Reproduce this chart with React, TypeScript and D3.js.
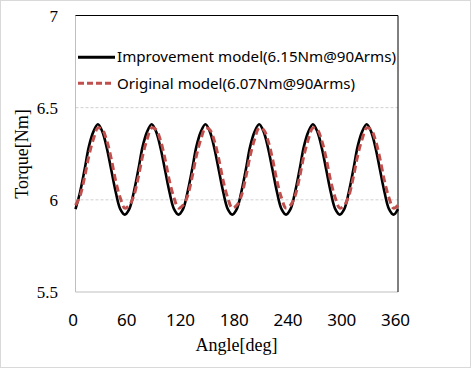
import * as d3 from "d3"

// angle [deg], every 5 degrees
const angles = [
  0, 5, 10, 15, 20, 25, 30, 35, 40, 45, 50, 55,
  60, 65, 70, 75, 80, 85, 90, 95, 100, 105, 110, 115,
  120, 125, 130, 135, 140, 145, 150, 155, 160, 165, 170, 175,
  180, 185, 190, 195, 200, 205, 210, 215, 220, 225, 230, 235,
  240, 245, 250, 255, 260, 265, 270, 275, 280, 285, 290, 295,
  300, 305, 310, 315, 320, 325, 330, 335, 340, 345, 350, 355,
  360,
]

const improvement = [
  5.95, 6.04, 6.16, 6.29, 6.37, 6.41, 6.37, 6.28, 6.16, 6.04, 5.95, 5.92,
  5.95, 6.04, 6.16, 6.29, 6.37, 6.41, 6.37, 6.28, 6.16, 6.04, 5.95, 5.92,
  5.95, 6.04, 6.16, 6.29, 6.37, 6.41, 6.37, 6.28, 6.16, 6.04, 5.95, 5.92,
  5.95, 6.04, 6.16, 6.29, 6.37, 6.41, 6.37, 6.28, 6.16, 6.04, 5.95, 5.92,
  5.95, 6.04, 6.16, 6.29, 6.37, 6.41, 6.37, 6.28, 6.16, 6.04, 5.95, 5.92,
  5.95, 6.04, 6.16, 6.29, 6.37, 6.41, 6.37, 6.28, 6.16, 6.04, 5.95, 5.92,
  5.95,
]

const original = [
  5.97, 6.02, 6.12, 6.24, 6.33, 6.39, 6.38, 6.32, 6.22, 6.1, 6.01, 5.955,
  5.97, 6.02, 6.12, 6.24, 6.33, 6.39, 6.38, 6.32, 6.22, 6.1, 6.01, 5.955,
  5.97, 6.02, 6.12, 6.24, 6.33, 6.39, 6.38, 6.32, 6.22, 6.1, 6.01, 5.955,
  5.97, 6.02, 6.12, 6.24, 6.33, 6.39, 6.38, 6.32, 6.22, 6.1, 6.01, 5.955,
  5.97, 6.02, 6.12, 6.24, 6.33, 6.39, 6.38, 6.32, 6.22, 6.1, 6.01, 5.955,
  5.97, 6.02, 6.12, 6.24, 6.33, 6.39, 6.38, 6.32, 6.22, 6.1, 6.01, 5.955,
  5.97,
]

const xTicks = [0, 60, 120, 180, 240, 300, 360]
const yTicks = [5.5, 6, 6.5, 7]
const yTickLabels = ["5.5", "6", "6.5", "7"]
const gridValues = [6, 6.5]
const legendLabels = [
  "Improvement model(6.15Nm@90Arms)",
  "Original model(6.07Nm@90Arms)",
]

const width = 471
const height = 368
const left = 75.5
const right = 398
const top = 15.5
const bottom = 292

const serif = "'Liberation Serif', 'Times New Roman', serif"
const sans = "'Noto Sans', 'Open Sans', sans-serif"

export default function App() {
  const x = d3.scaleLinear().domain([0, 360]).range([left, right])
  const y = d3.scaleLinear().domain([5.5, 7]).range([bottom, top])

  const line = d3
    .line<number>()
    .x((_, i) => x(angles[i]))
    .y((d) => y(d))
    .curve(d3.curveCatmullRom.alpha(0.5))

  return (
    <svg
      width={width}
      height={height}
      style={{ position: "absolute", left: 0, top: 0, display: "block" }}
    >
      <rect x={0} y={0} width={width} height={height} fill="#fff" />
      <rect
        x={0.5}
        y={0.5}
        width={width - 1}
        height={height - 1}
        fill="none"
        stroke="#d9d9d9"
      />

      {/* grid */}
      {gridValues.map((v) => (
        <line
          key={v}
          x1={left}
          x2={right}
          y1={y(v)}
          y2={y(v)}
          stroke="#d0d0d0"
          strokeDasharray="3,2"
        />
      ))}

      {/* frame */}
      <line x1={left} x2={left} y1={top} y2={bottom} stroke="#bfbfbf" />
      <line x1={left} x2={right} y1={bottom} y2={bottom} stroke="#bfbfbf" />
      <line x1={left} x2={right} y1={top} y2={top} stroke="#000" />
      <line x1={right} x2={right} y1={top} y2={bottom} stroke="#000" />

      {/* series */}
      <path d={line(improvement) ?? ""} fill="none" stroke="#000" strokeWidth={2.6} />
      <path
        d={line(original) ?? ""}
        fill="none"
        stroke="#c0504d"
        strokeWidth={3}
        strokeDasharray="7,4"
      />

      {/* y tick labels */}
      {yTicks.map((v, i) => (
        <text
          key={v}
          x={58}
          y={y(v) + 6}
          textAnchor="end"
          fontFamily={serif}
          fontSize={17}
          fill="#000"
        >
          {yTickLabels[i]}
        </text>
      ))}

      {/* x tick labels */}
      {xTicks.map((v) => (
        <text
          key={v}
          x={x(v) - 2.5}
          y={326}
          textAnchor="middle"
          fontFamily={sans}
          fontSize={17}
          fill="#000"
        >
          {v}
        </text>
      ))}

      <text
        x={236.5}
        y={351}
        textAnchor="middle"
        fontFamily={serif}
        fontSize={18}
        fill="#000"
      >
        Angle[deg]
      </text>
      <text
        transform="translate(28,154) rotate(-90)"
        textAnchor="middle"
        fontFamily={serif}
        fontSize={18}
        fill="#000"
      >
        Torque[Nm]
      </text>

      {/* legend */}
      <line x1={78} x2={115} y1={57.3} y2={57.3} stroke="#000" strokeWidth={3} />
      <text
        x={117}
        y={62}
        fontFamily={sans}
        fontSize={14}
        textLength={279}
        lengthAdjust="spacingAndGlyphs"
        fill="#000"
      >
        {legendLabels[0]}
      </text>
      <line
        x1={78}
        x2={112}
        y1={83.3}
        y2={83.3}
        stroke="#c0504d"
        strokeWidth={3}
        strokeDasharray="6,3"
      />
      <text
        x={117}
        y={89}
        fontFamily={sans}
        fontSize={14}
        textLength={238}
        lengthAdjust="spacingAndGlyphs"
        fill="#000"
      >
        {legendLabels[1]}
      </text>
    </svg>
  )
}
